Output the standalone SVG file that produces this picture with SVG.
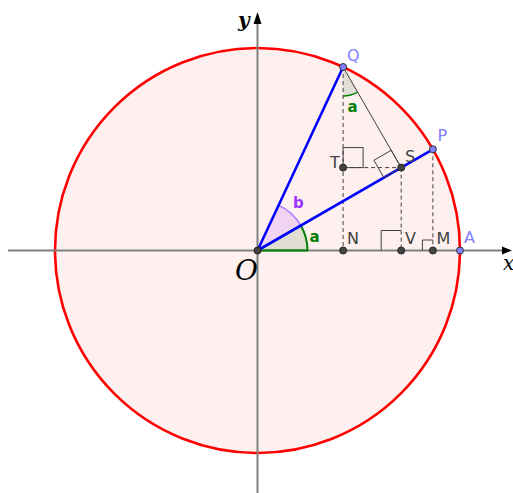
<svg xmlns="http://www.w3.org/2000/svg" width="513" height="493" viewBox="0 0 513 493">
<style>
.axis{stroke:#808080;stroke-width:2;fill:none}
.arrow{fill:#000}
.blue{stroke:#0000ff;stroke-width:2.6;fill:none;stroke-linecap:round}
.thin{stroke:#404040;stroke-width:1;fill:none}
.dash{stroke:#404040;stroke-width:1;fill:none;stroke-dasharray:4,3}
.ra{stroke:#404040;stroke-width:1;fill:none}
.pt{fill:#444;stroke:#222;stroke-width:1}
.bpt{fill:#7f7fff;stroke:#333;stroke-width:1}
.lbl{font-family:"DejaVu Sans","Liberation Sans",sans-serif;font-size:16px;fill:#404040}
.blbl{font-family:"DejaVu Sans","Liberation Sans",sans-serif;font-size:16px;fill:#7f7fff}
.ang{font-family:"DejaVu Sans","Liberation Sans",sans-serif;font-size:15px;font-weight:bold}
.math{font-family:"DejaVu Serif","Liberation Serif",serif;font-style:italic;fill:#000}
</style>
<rect width="513" height="493" fill="#fff"/>
<g id="circle">
<circle cx="257.5" cy="250.5" r="202.5" fill="#fff0f0" stroke="#ff0000" stroke-width="2.6"/>
</g>
<g id="axes">
<line class="axis" x1="8" y1="250.5" x2="505" y2="250.5"/>
<polygon class="arrow" points="512,250.5 502,246.5 502,254.5"/>
<line class="axis" x1="257.5" y1="493" x2="257.5" y2="20"/>
<polygon class="arrow" points="257.5,12 253.5,24 261.5,24"/>
<text class="math" x="503" y="270" font-size="20">x</text>
<text class="math" x="238" y="27" font-size="20" font-weight="bold">y</text>
</g>
<g id="angles">
<path d="M257.5,250.5 L307.5,250.5 A50,50 0 0 0 300.8,225.5 Z" fill="#006400" fill-opacity="0.12" stroke="#008000" stroke-width="2" stroke-linejoin="round"/>
<path d="M257.5,250.5 L300.8,225.5 A50,50 0 0 0 278.6,205.2 Z" fill="#9933ff" fill-opacity="0.15" stroke="none"/>
<path d="M300.8,225.5 A50,50 0 0 0 278.6,205.2" fill="none" stroke="#b07fff" stroke-width="1.5"/>
<path d="M343.1,67 L343.1,96 A29,29 0 0 0 357.6,92.1 Z" fill="#006400" fill-opacity="0.12" stroke="none"/>
<path d="M343.1,96 A29,29 0 0 0 357.6,92.1" fill="none" stroke="#008000" stroke-width="1.5"/>
</g>
<g id="connectors">
<line class="dash" x1="343.1" y1="67" x2="343.1" y2="250.5"/>
<line class="dash" x1="343.1" y1="167.6" x2="401.2" y2="167.6"/>
<line class="dash" x1="401.2" y1="167.6" x2="401.2" y2="250.5"/>
<line class="dash" x1="432.9" y1="149.3" x2="432.9" y2="250.5"/>
<line class="thin" x1="343.1" y1="67" x2="401.2" y2="167.6"/>
<line class="blue" x1="257.5" y1="250.5" x2="343.1" y2="67"/>
<line class="blue" x1="257.5" y1="250.5" x2="432.9" y2="149.3"/>
</g>
<g id="right-angles">
<rect class="ra" x="343.1" y="147.6" width="20" height="20"/>
<polygon class="ra" points="401.2,167.6 383.9,177.6 373.9,160.3 391.2,150.3" fill="none"/>
<polyline class="ra" points="381.2,250.5 381.2,230.5 401.2,230.5"/>
<polyline class="ra" points="422.4,250.5 422.4,240 432.9,240"/>
</g>
<g id="node-O"><circle class="pt" cx="257.5" cy="250.5" r="3.5"/><text class="math" x="235" y="280" font-size="28">O</text></g>
<g id="node-Q"><circle class="bpt" cx="343.1" cy="67" r="3.5"/><text class="blbl" x="347" y="61">Q</text></g>
<g id="node-P"><circle class="bpt" cx="432.9" cy="149.3" r="3.5"/><text class="blbl" x="437.5" y="141">P</text></g>
<g id="node-A"><circle class="bpt" cx="460" cy="250.5" r="3.5"/><text class="blbl" x="464" y="243">A</text></g>
<g id="node-S"><circle class="pt" cx="401.2" cy="167.6" r="3.5"/><text class="lbl" x="405" y="162">S</text></g>
<g id="node-T"><circle class="pt" cx="343.1" cy="167.6" r="3.5"/><text class="lbl" x="330" y="168">T</text></g>
<g id="node-N"><circle class="pt" cx="343.1" cy="250.5" r="3.5"/><text class="lbl" x="347" y="244">N</text></g>
<g id="node-V"><circle class="pt" cx="401.2" cy="250.5" r="3.5"/><text class="lbl" x="405" y="244">V</text></g>
<g id="node-M"><circle class="pt" cx="432.9" cy="250.5" r="3.5"/><text class="lbl" x="436.5" y="244">M</text></g>
<g id="angle-labels">
<text class="ang" x="309.5" y="242" fill="#007f00">a</text>
<text class="ang" x="293" y="208" fill="#9933ff">b</text>
<text class="ang" x="347.5" y="112" fill="#007f00">a</text>
</g>
</svg>
